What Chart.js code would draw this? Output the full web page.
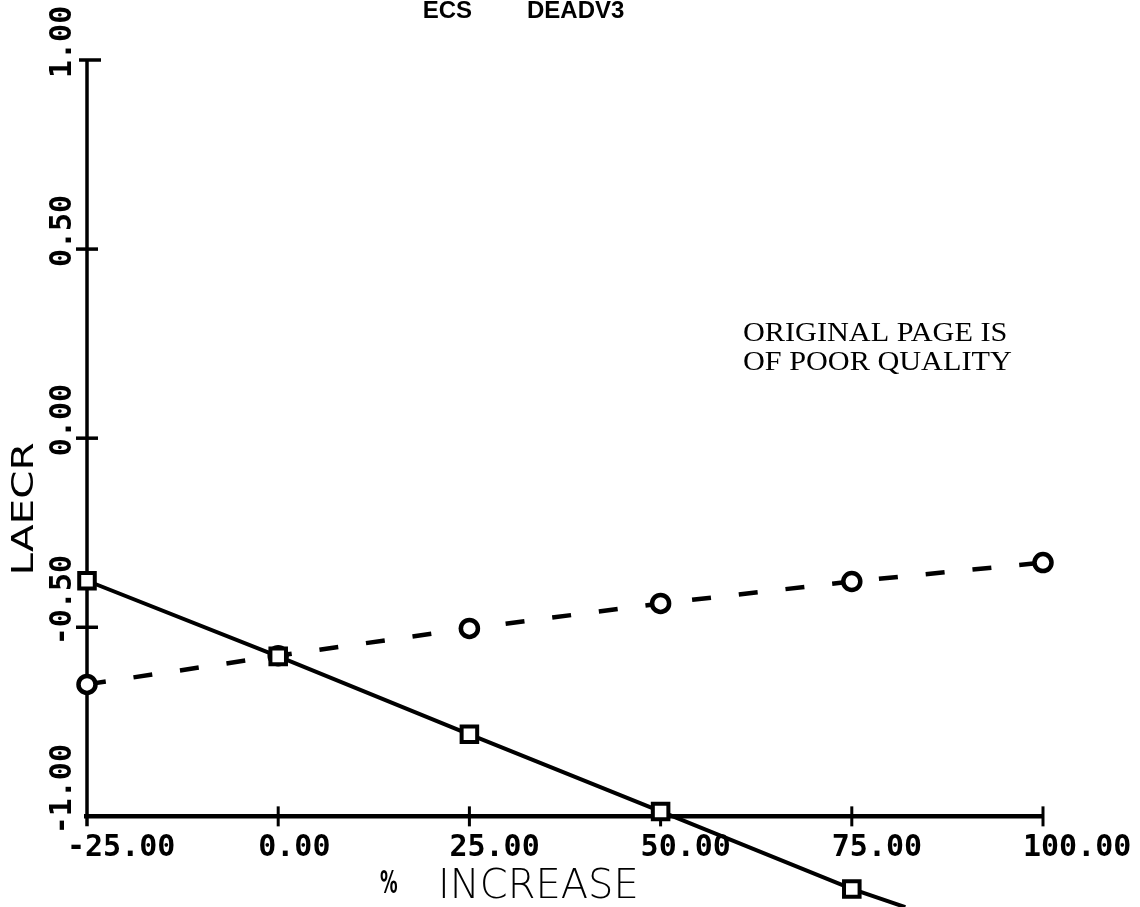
<!DOCTYPE html>
<html><head><meta charset="utf-8">
<script src="https://cdn.jsdelivr.net/npm/chart.js@4/dist/chart.umd.min.js"></script>
<style>html,body{margin:0;padding:0;background:#fff;} #wrap{width:1140px;height:907px;position:relative}</style>
</head><body><div id="wrap"><canvas id="c" width="1140" height="907"></canvas></div>
<script>
// ---- data ----
const xTickValues = [-25, 0, 25, 50, 75, 100];
const xTickLabels = ['-25.00', '0.00', '25.00', '50.00', '75.00', '100.00'];
const yTickValues = [-1, -0.5, 0, 0.5, 1];
const yTickLabels = ['-1.00', '-0.50', '0.00', '0.50', '1.00'];
const dashedX = [-25, 0, 25, 50, 75, 100];
const dashedY = [-0.651, -0.575, -0.503, -0.437, -0.379, -0.329];
const solidX = [-25, 0, 25, 50, 75, 82];
const solidY = [-0.377, -0.577, -0.783, -0.987, -1.192, -1.24];
const solidMarker = [true, true, true, true, true, false];
const titleLeft = 'ECS';
const titleRight = 'DEADV3';
const yTitle = 'LAECR';
const xTitlePct = '%';
const xTitle = 'INCREASE';
const noteLines = ['ORIGINAL PAGE IS', 'OF POOR QUALITY'];

const axesPlugin = {
  id: 'axesPlugin',
  beforeDatasetsDraw(chart) {
    const ctx = chart.ctx, xs = chart.scales.x, ys = chart.scales.y;
    const x0 = xs.getPixelForValue(xTickValues[0]);
    const y0 = ys.getPixelForValue(yTickValues[0]);
    ctx.save();
    ctx.strokeStyle = '#000';
    ctx.lineCap = 'butt';
    // y axis
    ctx.lineWidth = 3.5;
    ctx.beginPath();
    ctx.moveTo(x0, ys.getPixelForValue(yTickValues[yTickValues.length - 1]));
    ctx.lineTo(x0, y0 + 10);
    ctx.stroke();
    // y ticks
    yTickValues.forEach((v, i) => {
      if (i === 0) return;
      const py = ys.getPixelForValue(v);
      ctx.beginPath();
      if (i === yTickValues.length - 1) { ctx.moveTo(x0 - 8, py); ctx.lineTo(x0 + 14, py); }
      else { ctx.moveTo(x0 - 11, py); ctx.lineTo(x0 + 11, py); }
      ctx.stroke();
    });
    // x axis
    ctx.lineWidth = 4.5;
    ctx.beginPath();
    ctx.moveTo(x0 - 3, y0);
    ctx.lineTo(xs.getPixelForValue(xTickValues[xTickValues.length - 1]), y0);
    ctx.stroke();
    ctx.lineWidth = 3;
    xTickValues.forEach((v, i) => {
      if (i === 0) return;
      const px = xs.getPixelForValue(v);
      ctx.beginPath();
      ctx.moveTo(px, y0 - 10);
      ctx.lineTo(px, y0 + 10);
      ctx.stroke();
    });
    ctx.restore();
  },
  afterDraw(chart) {
    const ctx = chart.ctx, xs = chart.scales.x, ys = chart.scales.y;
    const y0 = ys.getPixelForValue(yTickValues[0]);
    ctx.save();
    ctx.fillStyle = '#000';
    // x tick labels
    ctx.font = 'bold 30px "DejaVu Sans Mono"';
    ctx.textAlign = 'left';
    ctx.textBaseline = 'alphabetic';
    xTickValues.forEach((v, i) => {
      ctx.fillText(xTickLabels[i], xs.getPixelForValue(v) - 20, y0 + 40);
    });
    // y tick labels (rotated)
    yTickValues.forEach((v, i) => {
      ctx.save();
      ctx.translate(71, ys.getPixelForValue(v) + 18);
      ctx.rotate(-Math.PI / 2);
      ctx.fillText(yTickLabels[i], 0, 0);
      ctx.restore();
    });
    // y title
    ctx.save();
    ctx.font = '30px "DejaVu Sans"';
    ctx.translate(33, 509);
    ctx.rotate(-Math.PI / 2);
    ctx.scale(1.35, 1);
    ctx.textAlign = 'center';
    ctx.fillText(yTitle, 0, 0);
    ctx.restore();
    // x title
    ctx.save();
    ctx.font = 'bold 32px "DejaVu Sans"';
    ctx.textAlign = 'left';
    ctx.translate(380, 893);
    ctx.scale(0.55, 1);
    ctx.fillText(xTitlePct, 0, 0);
    ctx.restore();
    ctx.font = '200 40px "DejaVu Sans"';
    ctx.textAlign = 'left';
    ctx.fillText(xTitle, 438, 898);
    // top title
    ctx.font = 'bold 24px "Liberation Sans Narrow", "Liberation Sans"';
    ctx.textAlign = 'right';
    ctx.fillText(titleLeft, 472, 18);
    ctx.textAlign = 'left';
    ctx.fillText(titleRight, 527, 18);
    // note
    ctx.font = '28px "Liberation Serif"';
    noteLines.forEach((t, i) => {
      ctx.save();
      ctx.translate(743, 341 + i * 29);
      ctx.scale(1.08, 1);
      ctx.fillText(t, 0, 0);
      ctx.restore();
    });
    ctx.restore();
  }
};

new Chart(document.getElementById('c'), {
  type: 'scatter',
  data: {
    datasets: [
      {
        label: 'solid',
        data: solidX.map((x, i) => ({ x, y: solidY[i] })),
        showLine: true,
        borderColor: '#000',
        borderWidth: 4,
        pointStyle: 'rect',
        pointRadius: solidMarker.map(m => m ? 11 : 0),
        pointBorderWidth: 4,
        pointBackgroundColor: '#fff',
        pointBorderColor: '#000',
        clip: false,
        tension: 0
      },
      {
        label: 'dashed',
        data: dashedX.map((x, i) => ({ x, y: dashedY[i] })),
        showLine: true,
        borderColor: '#000',
        borderWidth: 4.5,
        borderDash: [19, 28],
        pointStyle: 'circle',
        pointRadius: 8.5,
        pointBorderWidth: 4.5,
        pointBackgroundColor: '#fff',
        pointBorderColor: '#000',
        clip: false,
        tension: 0
      }
    ]
  },
  options: {
    responsive: false,
    animation: false,
    devicePixelRatio: 1,
    layout: { padding: { left: 87, right: 97, top: 60, bottom: 14.3 } },
    plugins: { legend: { display: false }, tooltip: { enabled: false }, title: { display: false } },
    scales: {
      x: { type: 'linear', min: -25, max: 100, display: false },
      y: { type: 'linear', min: -1.2, max: 1, display: false }
    }
  },
  plugins: [axesPlugin]
});
</script>
</body></html>
